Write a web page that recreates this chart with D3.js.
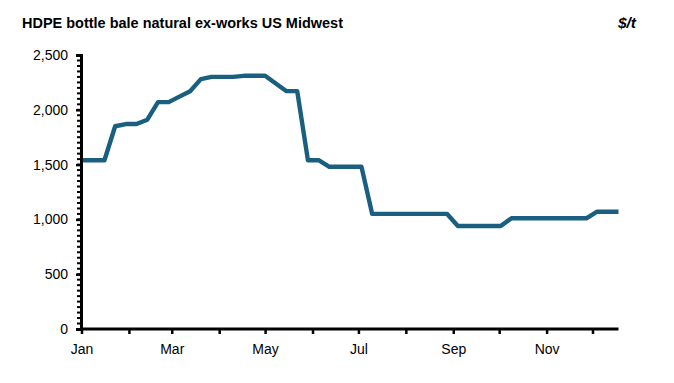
<!DOCTYPE html>
<html>
<head>
<meta charset="utf-8">
<script src="https://cdn.jsdelivr.net/npm/d3@7"></script>
<style>
  body { margin: 0; background: #fff; }
  svg { display: block; }
  text { font-family: "Liberation Sans", Arial, sans-serif; fill: #000; }
</style>
</head>
<body>
<svg id="chart" width="674" height="383"></svg>
<script>
const title = "HDPE bottle bale natural ex-works US Midwest";
const unit = "$/t";
const dates = [
  "2023-01-02","2023-01-09","2023-01-16","2023-01-23","2023-01-30",
  "2023-02-06","2023-02-13","2023-02-20","2023-02-27",
  "2023-03-06","2023-03-13","2023-03-20","2023-03-27",
  "2023-04-03","2023-04-10","2023-04-17","2023-04-24",
  "2023-05-01","2023-05-08","2023-05-15","2023-05-22","2023-05-29",
  "2023-06-05","2023-06-12","2023-06-19","2023-06-26",
  "2023-07-03","2023-07-10","2023-07-17","2023-07-24","2023-07-31",
  "2023-08-07","2023-08-14","2023-08-21","2023-08-28",
  "2023-09-04","2023-09-11","2023-09-18","2023-09-25",
  "2023-10-02","2023-10-09","2023-10-16","2023-10-23","2023-10-30",
  "2023-11-06","2023-11-13","2023-11-20","2023-11-27",
  "2023-12-04","2023-12-11","2023-12-18"
];
const prices = [
  1540,1540,1540,1850,1870,
  1870,1910,2070,2070,
  2120,2170,2280,2300,
  2300,2300,2310,2310,
  2310,2240,2170,2170,1540,
  1540,1480,1480,1480,
  1480,1050,1050,1050,1050,
  1050,1050,1050,1050,
  940,940,940,940,
  940,1010,1010,1010,1010,
  1010,1010,1010,1010,
  1070,1070,1070
];
const yTicks = [0, 500, 1000, 1500, 2000, 2500];
const xTickLabels = ["Jan","Mar","May","Jul","Sep","Nov"];

const parse = d3.timeParse("%Y-%m-%d");
const data = dates.map((d, i) => ({ date: parse(d), value: prices[i] }));

const svg = d3.select("#chart");
const x = d3.scaleTime()
  .domain([parse("2023-01-01"), parse("2023-12-18")])
  .range([81.5, 618.5]);
const y = d3.scaleLinear().domain([0, 2500]).range([329, 55]);

const narrow = "'Liberation Sans Narrow', 'Liberation Sans', Arial, sans-serif";

// title
svg.append("text").attr("x", 22).attr("y", 27.5)
  .style("font-family", narrow)
  .attr("font-weight", "bold").attr("font-size", 15.5)
  .attr("textLength", 321).attr("lengthAdjust", "spacingAndGlyphs")
  .text(title);
svg.append("text").attr("x", 636).attr("y", 27.5)
  .attr("text-anchor", "end")
  .style("font-family", narrow)
  .attr("font-weight", "bold").attr("font-style", "italic").attr("font-size", 15.5)
  .text(unit);

// y axis minor ticks
const minor = d3.range(0, 2501, 50);
svg.append("g").selectAll("line").data(minor).join("line")
  .attr("x1", 77).attr("x2", 81)
  .attr("y1", d => y(d)).attr("y2", d => y(d))
  .attr("stroke", "#000").attr("stroke-width", 2);

// y axis
const yAxis = d3.axisLeft(y).tickValues(yTicks).tickSize(5).tickPadding(8)
  .tickFormat(d3.format(","));
const gy = svg.append("g").attr("transform", "translate(81,0)").call(yAxis);
gy.select(".domain").attr("stroke", "#000").attr("stroke-width", 3);
gy.selectAll(".tick line").attr("stroke", "#000").attr("stroke-width", 2.5);
gy.selectAll(".tick text").attr("font-size", 14)
  .style("font-family", "'Liberation Sans', Arial, sans-serif").attr("fill", "#000");

// x axis
const monthTicks = d3.timeMonth.range(parse("2023-01-01"), parse("2023-12-18"));
const xAxis = d3.axisBottom(x).tickValues(monthTicks).tickSize(5).tickPadding(10)
  .tickFormat(d => {
    const m = d3.timeFormat("%b")(d);
    return xTickLabels.includes(m) ? m : "";
  });
const gx = svg.append("g").attr("transform", "translate(0,329)").call(xAxis);
gx.select(".domain").attr("stroke", "#000").attr("stroke-width", 3)
  .attr("d", `M${x.range()[0]},0H${x.range()[1]}`);
gx.selectAll(".tick line").attr("stroke", "#000").attr("stroke-width", 2.5);
gx.selectAll(".tick text").attr("font-size", 14)
  .style("font-family", "'Liberation Sans', Arial, sans-serif").attr("fill", "#000");

// line
const line = d3.line().x(d => x(d.date)).y(d => y(d.value));
svg.append("path").datum(data)
  .attr("fill", "none")
  .attr("stroke", "#1b5f80")
  .attr("stroke-width", 4.4)
  .attr("stroke-linejoin", "round")
  .attr("stroke-linecap", "butt")
  .attr("d", line);
</script>
</body>
</html>
